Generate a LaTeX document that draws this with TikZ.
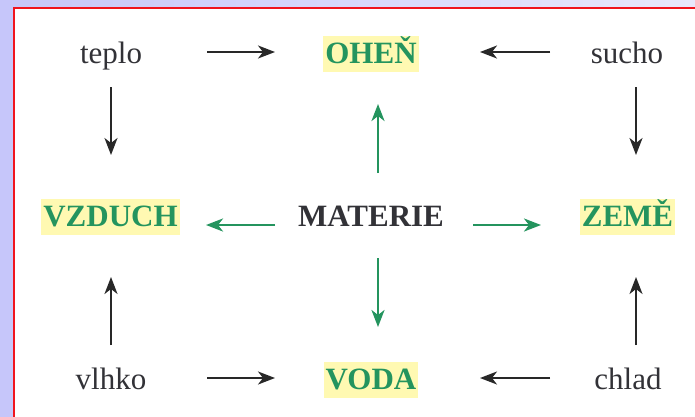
\documentclass[tikz,border=0pt]{standalone}
\usepackage{fontspec}
\setmainfont{Liberation Serif}
\usetikzlibrary{arrows.meta}
\definecolor{txtgray}{RGB}{50,50,55}
\definecolor{arrgray}{RGB}{40,40,40}
\definecolor{elgreen}{RGB}{36,148,94}
\definecolor{hlyellow}{RGB}{255,249,178}
\definecolor{lavdark}{RGB}{198,198,250}
\definecolor{lavlight}{RGB}{232,232,252}
\definecolor{framered}{RGB}{240,20,30}
\begin{document}
\begin{tikzpicture}[x=1pt,y=-1pt,
  quality/.style={font=\fontsize{31}{37}\selectfont, text=txtgray, anchor=base, inner sep=0pt},
  element/.style={font=\fontsize{31}{37}\selectfont\bfseries, text=elgreen, fill=hlyellow,
     anchor=base, inner xsep=2pt, inner ysep=0pt, text height=27pt, text depth=9pt},
  center/.style={font=\fontsize{31}{37}\selectfont\bfseries, text=txtgray, anchor=base, inner sep=0pt},
  grayarr/.style={draw=arrgray, line width=2pt, -{Stealth[length=17pt,width=13pt,inset=5pt]}},
  greenarr/.style={draw=elgreen, line width=2.6pt, -{Stealth[length=17pt,width=13pt,inset=5pt]}}
]
\useasboundingbox (0,0) rectangle (695,416);
\shade[left color=lavdark, right color=lavlight] (0,0) rectangle (695,416);
\fill[white] (13.5,7.5) rectangle (700,420);
\draw[framered, line width=2pt] (13.5,420) -- (13.5,7.5) -- (700,7.5);

% nodes
\node[quality] (teplo) at (111,63) {teplo};
\node[quality] (sucho) at (627,63) {sucho};
\node[quality] (vlhko) at (111,389) {vlhko};
\node[quality] (chlad) at (628,389) {chlad};
\node[element] (ohen) at (371,63) {OHEŇ};
\node[element] (vzduch) at (110.5,226) {VZDUCH};
\node[element] (zeme) at (627.5,226) {ZEMĚ};
\node[element] (voda) at (371,389) {VODA};
\node[center] (materie) at (371,226) {MATERIE};

% arrow end points
\coordinate (tpS) at (207,52);   \coordinate (tpE) at (275,52);
\coordinate (suS) at (550,52);   \coordinate (suE) at (480,52);
\coordinate (vlS) at (207,378);  \coordinate (vlE) at (275,378);
\coordinate (chS) at (550,378);  \coordinate (chE) at (480,378);
\coordinate (tdS) at (111,87);   \coordinate (tdE) at (111,155);
\coordinate (sdS) at (636,87);   \coordinate (sdE) at (636,155);
\coordinate (vuS) at (111,345);  \coordinate (vuE) at (111,277);
\coordinate (zuS) at (636,345);  \coordinate (zuE) at (636,277);
\coordinate (muS) at (378,173);  \coordinate (muE) at (378,104);
\coordinate (mdS) at (378,258);  \coordinate (mdE) at (378,327);
\coordinate (mlS) at (275,225);  \coordinate (mlE) at (206,225);
\coordinate (mrS) at (473,225);  \coordinate (mrE) at (541,225);

\draw[grayarr] (tpS) -- (tpE);
\draw[grayarr] (suS) -- (suE);
\draw[grayarr] (vlS) -- (vlE);
\draw[grayarr] (chS) -- (chE);
\draw[grayarr] (tdS) -- (tdE);
\draw[grayarr] (sdS) -- (sdE);
\draw[grayarr] (vuS) -- (vuE);
\draw[grayarr] (zuS) -- (zuE);
\draw[greenarr] (muS) -- (muE);
\draw[greenarr] (mdS) -- (mdE);
\draw[greenarr] (mlS) -- (mlE);
\draw[greenarr] (mrS) -- (mrE);
\end{tikzpicture}
\end{document}
